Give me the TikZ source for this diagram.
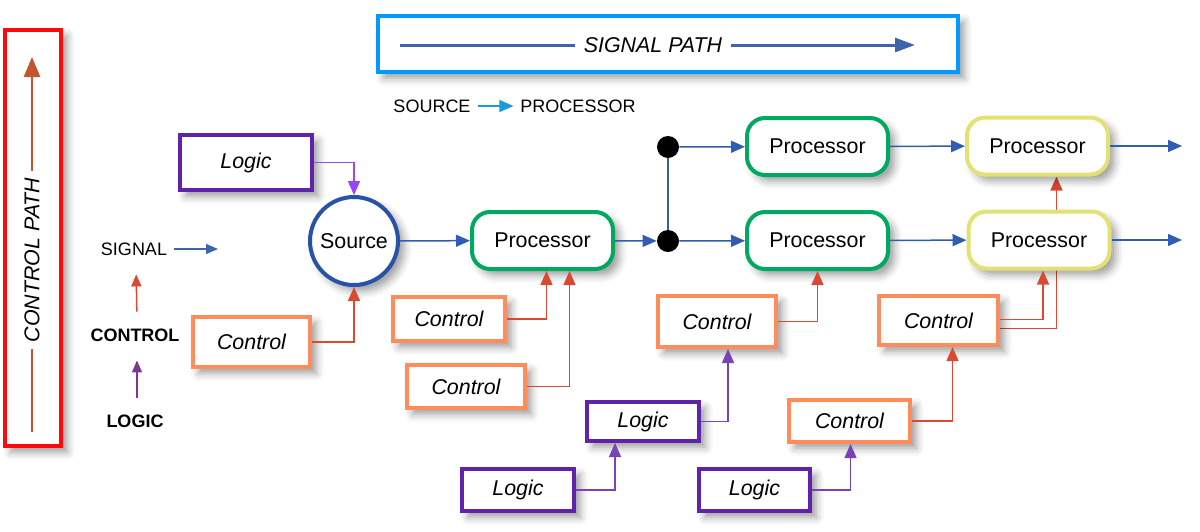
\documentclass[tikz,border=0pt]{standalone}
\usepackage{fontspec}
\setmainfont{Liberation Sans}
\usepackage{tikz}
\usetikzlibrary{arrows.meta,calc,shadows.blur,backgrounds}

\definecolor{pathred}{RGB}{255,10,10}
\definecolor{pathblue}{RGB}{0,153,255}
\definecolor{sigblue}{RGB}{48,92,180}
\definecolor{srcblue}{RGB}{40,82,168}
\definecolor{legblue}{RGB}{26,154,214}
\definecolor{cpbrown}{RGB}{196,84,48}
\definecolor{lgpurple}{RGB}{96,34,170}
\definecolor{lglight}{RGB}{150,70,255}
\definecolor{legpurple}{RGB}{125,55,140}
\definecolor{ctlorange}{RGB}{255,140,90}
\definecolor{ctlred}{RGB}{218,74,50}
\definecolor{procgreen}{RGB}{0,168,96}
\definecolor{procyellow}{RGB}{226,226,116}

\begin{document}
\begin{tikzpicture}[x=0.5pt, y=-0.5pt,
  shad/.style={blur shadow={shadow xshift=3pt, shadow yshift=-3pt,
    shadow blur radius=4pt, shadow opacity=40}},
  boxtxt/.style={font=\fontsize{10.7}{12}\selectfont},
  legtxt/.style={font=\fontsize{9}{10}\selectfont},
  tip/.style={-{Triangle[length=7pt,width=6pt]}},
  logic/.style={draw=lgpurple, line width=2pt, fill=white, shad,
    font=\fontsize{10.7}{12}\selectfont\itshape},
  control/.style={draw=ctlorange, line width=2pt, fill=white, shad,
    font=\fontsize{10.7}{12}\selectfont\itshape},
  proc/.style={line width=2pt, fill=white, rounded corners=9pt, shad,
    boxtxt, minimum width=70.5pt, minimum height=28.5pt},
  sig/.style={draw=sigblue, line width=0.75pt, tip},
  ctl/.style={draw=ctlred, line width=0.75pt, tip},
  lg/.style={draw=lgpurple!85, line width=0.75pt, tip},
  junction/.style={circle, fill=black, minimum size=11pt, inner sep=0pt}]

  \useasboundingbox (0,0) rectangle (1200,531);

  % control path legend
  \node[draw=pathred, line width=2pt, fill=white, shad, minimum width=28pt,
    minimum height=208pt] (cpBox) at (33,238) {};
  \node[font=\fontsize{10.7}{12}\selectfont\itshape, rotate=90] (cpText) at (32,260) {CONTROL PATH};
  \coordinate (cpBot) at (32,432);
  \coordinate (cpTop) at (32,57);
  \draw[cpbrown, line width=1.3pt] (cpBot) -- (cpText.west);
  \draw[cpbrown, line width=1.3pt, -{Triangle[length=10pt,width=8pt]}] (cpText.east) -- (cpTop);

  % signal path legend
  \node[draw=pathblue, line width=2pt, fill=white, shad, minimum width=290pt,
    minimum height=28pt] (spBox) at (668,44) {};
  \node[font=\fontsize{10.7}{12}\selectfont\itshape, inner sep=4pt] (spText) at (653,45) {SIGNAL PATH};
  \coordinate (spA) at (400,45);
  \coordinate (spB) at (915,45);
  \draw[sigblue!80!gray, line width=1.5pt] (spA) -- (spText.west);
  \draw[sigblue!80!gray, line width=1.5pt, -{Triangle[length=10pt,width=7pt]}] (spText.east) -- (spB);

  \node[legtxt] (legSrc) at (432,106) {SOURCE};
  \node[legtxt] (legProc) at (578,106) {PROCESSOR};
  \draw[legblue, line width=0.75pt, tip] (legSrc) -- (legProc);

  % small legend on the left
  \node[legtxt] (legSig) at (134,249) {SIGNAL};
  \coordinate (legSigEnd) at (218,249);
  \draw[sigblue!80!gray, line width=0.75pt, -{Triangle[length=6pt,width=5pt]}] (legSig.east) -- (legSigEnd);
  \node[font=\fontsize{9}{10}\selectfont\bfseries] (legCtl) at (135,335) {CONTROL};
  \node[font=\fontsize{9}{10}\selectfont\bfseries] (legLg) at (135,421) {LOGIC};
  \draw[ctlred, line width=0.75pt, -{Triangle[length=6pt,width=5pt]}, shorten <=5pt, shorten >=6pt]
    ([xshift=1pt]legCtl.north) -- ([xshift=1pt]legSig.south);
  \draw[legpurple, line width=0.75pt, -{Triangle[length=6pt,width=5pt]}, shorten <=5pt, shorten >=6pt]
    ([xshift=1pt]legLg.north) -- ([xshift=1pt]legCtl.south);

  % signal chain
  \node[circle, draw=srcblue, line width=2pt, fill=white, shad, boxtxt,
    minimum size=44pt, inner sep=0pt] (src) at (354,241) {Source};
  \node[proc, draw=procgreen] (procA) at (542.5,240.5) {Processor};
  \node[junction] (dotA) at (668,241) {};
  \node[junction] (dotB) at (668,147) {};
  \node[proc, draw=procgreen] (procB) at (817.5,146.5) {Processor};
  \node[proc, draw=procgreen] (procC) at (817.5,240.5) {Processor};
  \node[proc, draw=procyellow] (procD) at (1037.5,146) {Processor};
  \node[proc, draw=procyellow] (procE) at (1039,240) {Processor};
  \coordinate (outD) at (1182,146);
  \coordinate (outE) at (1182,240);

  \draw[sig] (src) -- (procA);
  \draw[sig] (procA) -- (dotA);
  \draw[sigblue, line width=0.75pt] (dotA) -- (dotB);
  \draw[sig] (dotB) -- (procB);
  \draw[sig] (dotA) -- (procC);
  \draw[sig] (procB) -- (procD);
  \draw[sig] (procC) -- (procE);
  \draw[sig] (procD.east) -- (outD);
  \draw[sig] (procE.east) -- (outE);

  % logic and control boxes
  \node[logic, minimum width=66pt, minimum height=27.5pt] (lgA) at (246,162.5) {Logic};
  \node[control, minimum width=58.5pt, minimum height=25pt] (ctlA) at (251.5,342) {Control};
  \node[control, minimum width=56pt, minimum height=22pt] (ctlB) at (449,319) {Control};
  \node[control, minimum width=59pt, minimum height=21.5pt] (ctlC) at (466,386.5) {Control};
  \node[control, minimum width=59pt, minimum height=25.5pt] (ctlD) at (717,321.5) {Control};
  \node[logic, minimum width=56pt, minimum height=19.5pt] (lgB) at (643,421.5) {Logic};
  \node[logic, minimum width=56pt, minimum height=21pt] (lgC) at (518,490) {Logic};
  \node[control, minimum width=59.5pt, minimum height=24.5pt] (ctlE) at (938.5,320.5) {Control};
  \node[control, minimum width=60.5pt, minimum height=21pt] (ctlF) at (849.5,421) {Control};
  \node[logic, minimum width=55.5pt, minimum height=21pt] (lgD) at (754.5,490) {Logic};

  \draw[lglight, line width=0.75pt, tip] (lgA.east) -| (src.north);
  \draw[ctl] (ctlA.east) -| (src.south);
  \draw[ctl] (ctlB.east) -| ($(procA.south)+(4,0)$);
  \draw[ctl] (ctlC.east) -| ($(procA.south)+(27,0)$);
  \draw[ctl] (ctlD.east) -| (procC.south);
  \draw[lg] (lgB.east) -| ($(ctlD.south)+(11,0)$);
  \draw[lg] (lgC.east) -| ($(lgB.south)+(-28,0)$);
  \draw[ctl] ($(ctlE.east)+(0,-1)$) -| ($(procE.south)+(4,0)$);
  \begin{scope}[on background layer]
    \draw[ctl] ($(ctlE.east)+(0,8)$) -| ($(procD.south)+(19,0)$);
  \end{scope}
  \draw[ctl] (ctlF.east) -| ($(ctlE.south)+(14,0)$);
  \draw[lg] (lgD.east) -| ($(ctlF.south)+(1,0)$);
\end{tikzpicture}
\end{document}
